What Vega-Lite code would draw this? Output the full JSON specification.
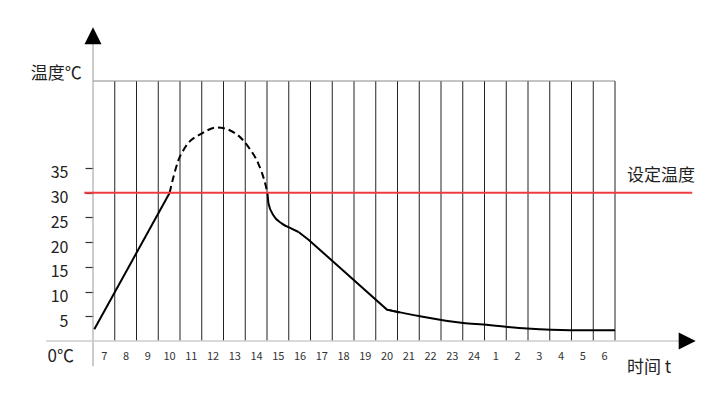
{
  "$schema": "https://vega.github.io/schema/vega-lite/v6.json",
  "width": 522,
  "height": 260,
  "autosize": {"type": "none"},
  "padding": {"left": 93, "top": 81, "right": 105, "bottom": 62},
  "background": "white",
  "config": {"view": {"stroke": null}, "font": "Noto Sans CJK SC"},
  "datasets": {
    "vlines": [
      {"u": 1, "v": 0, "v2": 52.6}, {"u": 2, "v": 0, "v2": 52.6}, {"u": 3, "v": 0, "v2": 52.6},
      {"u": 4, "v": 0, "v2": 52.6}, {"u": 5, "v": 0, "v2": 52.6}, {"u": 6, "v": 0, "v2": 52.6},
      {"u": 7, "v": 0, "v2": 52.6}, {"u": 8, "v": 0, "v2": 52.6}, {"u": 9, "v": 0, "v2": 52.6},
      {"u": 10, "v": 0, "v2": 52.6}, {"u": 11, "v": 0, "v2": 52.6}, {"u": 12, "v": 0, "v2": 52.6},
      {"u": 13, "v": 0, "v2": 52.6}, {"u": 14, "v": 0, "v2": 52.6}, {"u": 15, "v": 0, "v2": 52.6},
      {"u": 16, "v": 0, "v2": 52.6}, {"u": 17, "v": 0, "v2": 52.6}, {"u": 18, "v": 0, "v2": 52.6},
      {"u": 19, "v": 0, "v2": 52.6}, {"u": 20, "v": 0, "v2": 52.6}, {"u": 21, "v": 0, "v2": 52.6},
      {"u": 22, "v": 0, "v2": 52.6}, {"u": 23, "v": 0, "v2": 52.6}, {"u": 24, "v": 0, "v2": 52.6}
    ],
    "topline": [{"u": 0, "u2": 24, "v": 52.6}],
    "yaxisline": [{"u": 0, "v": -5.1, "v2": 61}],
    "xaxisline": [{"u": -2.15, "u2": 27, "v": 0}],
    "setline": [{"u": -0.4, "u2": 27.55, "v": 30}],
    "straight": [
      {"seg": "rise", "u": 0.06, "v": 2.37},
      {"seg": "rise", "u": 3.52, "v": 29.94},
      {"seg": "fallB", "u": 9.45, "v": 22.05},
      {"seg": "fallB", "u": 9.91, "v": 20.5},
      {"seg": "fallB", "u": 13.51, "v": 6.35},
      {"seg": "fallB", "u": 14.1, "v": 5.75}
    ],
    "curved": [
      {"seg": "fallA", "u": 8.02, "v": 29.94},
      {"seg": "fallA", "u": 8.07, "v": 27.8},
      {"seg": "fallA", "u": 8.3, "v": 25.4},
      {"seg": "fallA", "u": 8.69, "v": 23.75},
      {"seg": "fallA", "u": 9.15, "v": 22.7},
      {"seg": "fallA", "u": 9.45, "v": 22.05},
      {"seg": "tail", "u": 13.51, "v": 6.35},
      {"seg": "tail", "u": 15.04, "v": 5.0},
      {"seg": "tail", "u": 17.02, "v": 3.64},
      {"seg": "tail", "u": 17.94, "v": 3.32},
      {"seg": "tail", "u": 19.96, "v": 2.51},
      {"seg": "tail", "u": 21.93, "v": 2.16},
      {"seg": "tail", "u": 24.0, "v": 2.16}
    ],
    "dashed": [
      {"u": 3.52, "v": 29.94},
      {"u": 3.7, "v": 33.2},
      {"u": 3.93, "v": 36.6},
      {"u": 4.24, "v": 39.2},
      {"u": 5.01, "v": 42.0},
      {"u": 5.7, "v": 43.2},
      {"u": 6.55, "v": 42.0},
      {"u": 7.2, "v": 38.9},
      {"u": 7.6, "v": 35.9},
      {"u": 7.92, "v": 31.8},
      {"u": 8.02, "v": 29.94}
    ],
    "uparrow": [{"u": 0, "v": 61.75}],
    "rightarrow": [{"u": 27.32, "v": 0}],
    "labels": [
      {"u": -1.69, "v": 54.1, "lab": "温度℃"},
      {"u": -1.48, "v": -3.24, "lab": "0℃"},
      {"u": 26.12, "v": 33.3, "lab": "设定温度"},
      {"u": 25.57, "v": -5.52, "lab": "时间 t"}
    ]
  },
  "encoding": {
    "x": {
      "field": "u",
      "type": "quantitative",
      "scale": {"domain": [0, 24], "nice": false, "zero": false},
      "axis": {
        "values": [0.5, 1.5, 2.5, 3.5, 4.5, 5.5, 6.5, 7.5, 8.5, 9.5, 10.5, 11.5, 12.5, 13.5, 14.5, 15.5, 16.5, 17.5, 18.5, 19.5, 20.5, 21.5, 22.5, 23.5],
        "labelExpr": "(floor(datum.value)+6)%24+1",
        "domain": false,
        "ticks": false,
        "grid": false,
        "labelFontSize": 11,
        "labelColor": "#333",
        "labelPadding": 9,
        "labelOverlap": false,
        "labelFlush": false,
        "title": null
      }
    },
    "y": {
      "field": "v",
      "type": "quantitative",
      "scale": {"domain": [0, 52.6], "nice": false, "zero": false},
      "axis": {
        "values": [5, 10, 15, 20, 25, 30, 35],
        "domain": false,
        "grid": false,
        "tickSize": 8,
        "tickColor": "#333",
        "tickWidth": 1.2,
        "labelFontSize": 16,
        "labelColor": "#222",
        "labelPadding": 17,
        "labelOffset": 5,
        "labelOverlap": false,
        "title": null
      }
    }
  },
  "layer": [
    {"data": {"name": "vlines"}, "mark": {"type": "rule", "color": "#222", "strokeWidth": 1}, "encoding": {"y2": {"field": "v2"}}},
    {"data": {"name": "topline"}, "mark": {"type": "rule", "color": "#888", "strokeWidth": 1}, "encoding": {"x2": {"field": "u2"}}},
    {"data": {"name": "yaxisline"}, "mark": {"type": "rule", "color": "#aaa", "strokeWidth": 1.2}, "encoding": {"y2": {"field": "v2"}}},
    {"data": {"name": "xaxisline"}, "mark": {"type": "rule", "color": "#ccc", "strokeWidth": 1.5}, "encoding": {"x2": {"field": "u2"}}},
    {"data": {"name": "straight"}, "mark": {"type": "line", "color": "#000", "strokeWidth": 2, "interpolate": "linear"}, "encoding": {"detail": {"field": "seg"}}},
    {"data": {"name": "curved"}, "mark": {"type": "line", "color": "#000", "strokeWidth": 2, "interpolate": "monotone"}, "encoding": {"detail": {"field": "seg"}}},
    {"data": {"name": "dashed"}, "mark": {"type": "line", "color": "#000", "strokeWidth": 2, "strokeDash": [7, 4], "interpolate": "monotone"}, "encoding": {}},
    {"data": {"name": "setline"}, "mark": {"type": "rule", "color": "#ee3b43", "strokeWidth": 2}, "encoding": {"x2": {"field": "u2"}}},
    {"data": {"name": "uparrow"}, "mark": {"type": "point", "shape": "M-1,1L1,1L0,-1Z", "size": 289, "filled": true, "color": "#000", "opacity": 1, "strokeWidth": 0}},
    {"data": {"name": "rightarrow"}, "mark": {"type": "point", "shape": "M-1,-1L1,0L-1,1Z", "size": 289, "filled": true, "color": "#000", "opacity": 1, "strokeWidth": 0}},
    {"data": {"name": "labels"}, "mark": {"type": "text", "fontSize": 17, "color": "#222", "align": "center", "baseline": "middle"}, "encoding": {"text": {"field": "lab"}}}
  ]
}
